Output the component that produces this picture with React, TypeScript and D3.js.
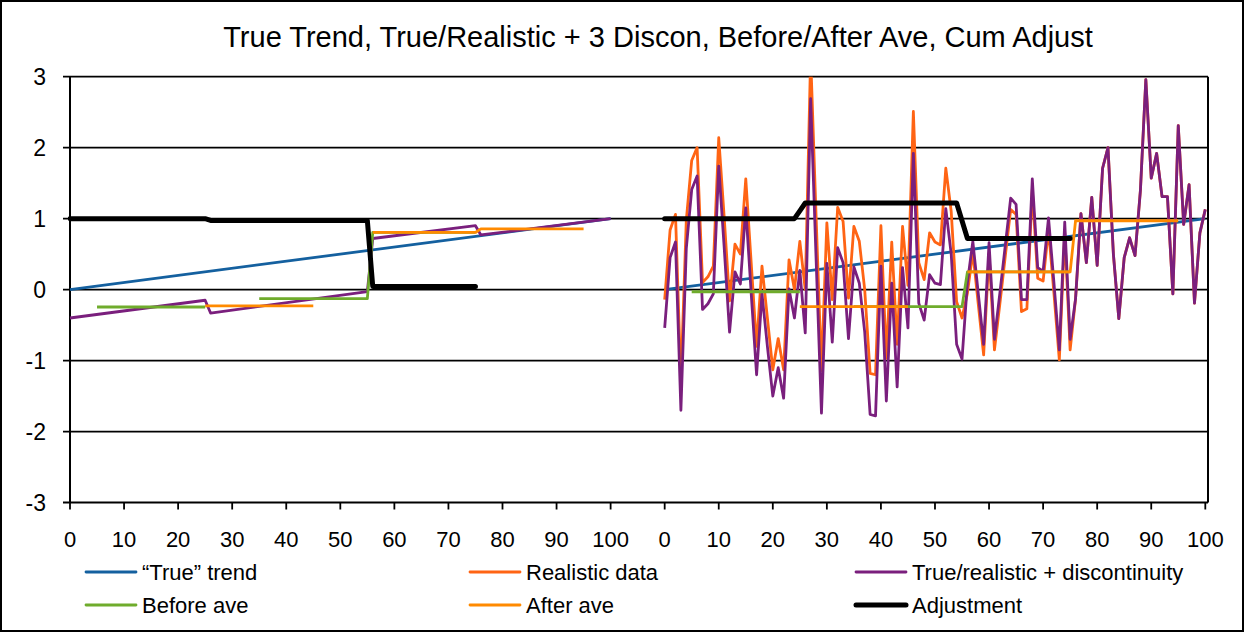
import React from "react";
import * as d3 from "d3";

// category labels on the x axis (both panels use 0..100)
const xTickLabels = [0, 10, 20, 30, 40, 50, 60, 70, 80, 90, 100];
const yTicks = [-3, -2, -1, 0, 1, 2, 3];

// left panel, "true" trend and the trend with 3 discontinuities (vertices)
const trendPts = [[0, 0], [100, 1]];
const trueDiscPts = [[0, -0.4], [25, -0.15], [26, -0.33], [55, -0.03], [56, 0.72], [75, 0.9], [76, 0.77], [100, 1.0]];
const beforeAveLeft = [
  [[5, -0.245], [25, -0.245]],
  [[35, -0.127], [55, -0.127], [56, 0.805], [75, 0.805]],
];
const afterAveLeft = [
  [[25, -0.23], [45, -0.23]],
  [[56, 0.805], [75, 0.805], [76, 0.855], [95, 0.855]],
];
const adjustLeft = [[0, 1], [25, 1], [26, 0.975], [55, 0.975], [56, 0.045], [75, 0.045]];

// right panel, realistic data t = 0..100
const realistic = [
  -0.14, 0.84, 1.06, -1.3, 0.98, 1.82, 2.0, 0.1, 0.18, 0.33,
  2.14, 1.03, -0.16, 0.64, 0.5, 1.56, 0.38, -0.8, 0.33, -0.4,
  -1.13, -0.69, -1.13, 0.42, 0.0, 0.68, 0.0, 3.29, 1.05, -1.14,
  0.94, -0.14, 1.16, 0.96, -0.12, 0.89, 0.68, 0.0, -1.18, -1.2,
  0.9, -0.97, 0.67, -0.77, 0.89, 0.06, 2.51, 0.38, 0.14, 0.8,
  0.67, 0.63, 1.71, 1.1, -0.17, -0.4, -0.05, 0.53, -0.2, -0.92,
  0.51, -0.85, -0.2, 0.47, 1.13, 1.06, -0.31, -0.27, 1.41, 0.16,
  0.12, 0.85, -0.05, -0.99, 0.8, -0.85, -0.13, 1.07, 0.38, 1.3,
  0.34, 1.71, 2.0, 0.5, -0.41, 0.45, 0.73, 0.48, 1.4, 2.96,
  1.57, 1.92, 1.31, 1.31, -0.06, 2.31, 0.92, 1.48, -0.19, 0.8,
  1.13,
];
// right panel, realistic + discontinuity t = 0..100
const realisticDisc = [
  -0.54, 0.45, 0.67, -1.7, 0.58, 1.41, 1.6, -0.28, -0.2, -0.06,
  1.74, 0.6, -0.6, 0.25, 0.08, 1.15, -0.05, -1.2, -0.06, -0.8,
  -1.5, -1.1, -1.53, 0.01, -0.4, 0.27, -0.61, 2.69, 0.45, -1.74,
  0.37, -0.74, 0.59, 0.38, -0.69, 0.32, 0.09, -0.6, -1.76, -1.78,
  0.33, -1.57, 0.09, -1.37, 0.31, -0.54, 1.92, -0.19, -0.43, 0.21,
  0.09, 0.07, 1.14, 0.5, -0.77, -0.98, 0.1, 0.68, -0.05, -0.77,
  0.66, -0.7, -0.05, 0.62, 1.29, 1.2, -0.14, -0.14, 1.56, 0.31,
  0.26, 1.01, 0.1, -0.85, 0.95, -0.7, -0.13, 1.07, 0.38, 1.3,
  0.34, 1.71, 2.0, 0.5, -0.41, 0.45, 0.73, 0.48, 1.4, 2.96,
  1.57, 1.92, 1.31, 1.31, -0.06, 2.31, 0.92, 1.48, -0.19, 0.8,
  1.13,
];
const beforeAveRight = [
  [[5, -0.03], [25, -0.03]],
  [[35, -0.24], [55, -0.24], [56, 0.25], [75, 0.25]],
];
const afterAveRight = [
  [[25, -0.24], [45, -0.24]],
  [[56, 0.25], [75, 0.25], [76, 0.97], [95, 0.97]],
];
const adjustRight = [[0, 1], [24, 1], [25, 1.11], [26, 1.22], [54, 1.22], [55, 0.97], [56, 0.72], [75, 0.72]];

const RIGHT_OFFSET = 110; // category index where the right panel starts

const C = {
  trend: "#14609F",
  real: "#FF6414",
  disc: "#7A1F7D",
  before: "#6FAC2C",
  after: "#FF8A00",
  adj: "#000000",
};

const App = () => {
  const W = 1244;
  const H = 632;
  const x = d3.scaleLinear().domain([0, 210.5]).range([70, 1208]);
  const y = d3.scaleLinear().domain([-3, 3]).range([502.5, 76.7]);
  const line = d3.line<number[]>().x((d) => x(d[0])).y((d) => y(d[1]));
  const shift = (pts: number[][], off: number) => pts.map((p) => [p[0] + off, p[1]]);
  const rightPts = (vals: number[]) => vals.map((v, i) => [i + RIGHT_OFFSET, v]);

  const font = "'Liberation Sans', Arial, sans-serif";
  const sw = 2.8;

  const legend = [
    { label: "\u201CTrue\u201D trend", color: C.trend, w: sw, lx: 86, ly: 572 },
    { label: "Realistic data", color: C.real, w: sw, lx: 470, ly: 572 },
    { label: "True/realistic + discontinuity", color: C.disc, w: sw, lx: 856, ly: 572 },
    { label: "Before ave", color: C.before, w: sw, lx: 86, ly: 605 },
    { label: "After ave", color: C.after, w: sw, lx: 470, ly: 605 },
    { label: "Adjustment", color: C.adj, w: 5, lx: 856, ly: 605 },
  ];

  return (
    <svg width={W} height={H} style={{ position: "absolute", left: 0, top: 0 }} fontFamily={font}>
      <rect x={0} y={0} width={W} height={H} fill="#fff" />
      <rect x={1} y={1} width={W - 2} height={H - 2} fill="none" stroke="#000" strokeWidth={2} />
      <text x={658} y={47} textAnchor="middle" fontSize={29}>
        True Trend, True/Realistic + 3 Discon, Before/After Ave, Cum Adjust
      </text>
      <defs>
        <clipPath id="plot">
          <rect x={x(0) - 2} y={y(3)} width={x(210.5) - x(0) + 2} height={y(-3) - y(3)} />
        </clipPath>
      </defs>
      {/* gridlines */}
      {yTicks.map((t) => (
        <g key={t}>
          <line x1={x(0) - 7} x2={x(210.5)} y1={y(t)} y2={y(t)} stroke="#000" strokeWidth={t === -3 ? 2 : 1.8} />
          <text x={46} y={y(t) + 8} textAnchor="end" fontSize={23}>{t}</text>
        </g>
      ))}
      <line x1={x(0)} x2={x(0)} y1={y(3)} y2={y(-3)} stroke="#000" strokeWidth={2} />
      <line x1={x(210.5)} x2={x(210.5)} y1={y(3)} y2={y(-3)} stroke="#000" strokeWidth={2} />
      {/* x ticks */}
      {[0, RIGHT_OFFSET].map((off) =>
        xTickLabels.map((t) => (
          <g key={off + "-" + t}>
            <line x1={x(t + off)} x2={x(t + off)} y1={y(-3)} y2={y(-3) + 7} stroke="#000" strokeWidth={1.8} />
            <text x={x(t + off)} y={547} textAnchor="middle" fontSize={22}>{t}</text>
          </g>
        ))
      )}
      <g clipPath="url(#plot)" fill="none" strokeLinejoin="round">
        <path d={line(trendPts)!} stroke={C.trend} strokeWidth={sw} />
        <path d={line(shift(trendPts, RIGHT_OFFSET))!} stroke={C.trend} strokeWidth={sw} />
        <path d={line(rightPts(realistic))!} stroke={C.real} strokeWidth={sw} />
        <path d={line(trueDiscPts)!} stroke={C.disc} strokeWidth={sw} />
        <path d={line(rightPts(realisticDisc))!} stroke={C.disc} strokeWidth={sw} />
        {beforeAveLeft.map((s, i) => (
          <path key={"bl" + i} d={line(s)!} stroke={C.before} strokeWidth={sw} />
        ))}
        {beforeAveRight.map((s, i) => (
          <path key={"br" + i} d={line(shift(s, RIGHT_OFFSET))!} stroke={C.before} strokeWidth={sw} />
        ))}
        {afterAveLeft.map((s, i) => (
          <path key={"al" + i} d={line(s)!} stroke={C.after} strokeWidth={sw} />
        ))}
        {afterAveRight.map((s, i) => (
          <path key={"ar" + i} d={line(shift(s, RIGHT_OFFSET))!} stroke={C.after} strokeWidth={sw} />
        ))}
        <path d={line(adjustLeft)!} stroke={C.adj} strokeWidth={5} strokeLinecap="round" />
        <path d={line(shift(adjustRight, RIGHT_OFFSET))!} stroke={C.adj} strokeWidth={5} strokeLinecap="round" />
      </g>
      {/* legend */}
      {legend.map((l) => (
        <g key={l.label}>
          <line x1={l.lx} x2={l.lx + 50} y1={l.ly} y2={l.ly} stroke={l.color} strokeWidth={l.w} strokeLinecap="round" />
          <text x={l.lx + 56} y={l.ly + 8} fontSize={22}>{l.label}</text>
        </g>
      ))}
    </svg>
  );
};

export default App;
